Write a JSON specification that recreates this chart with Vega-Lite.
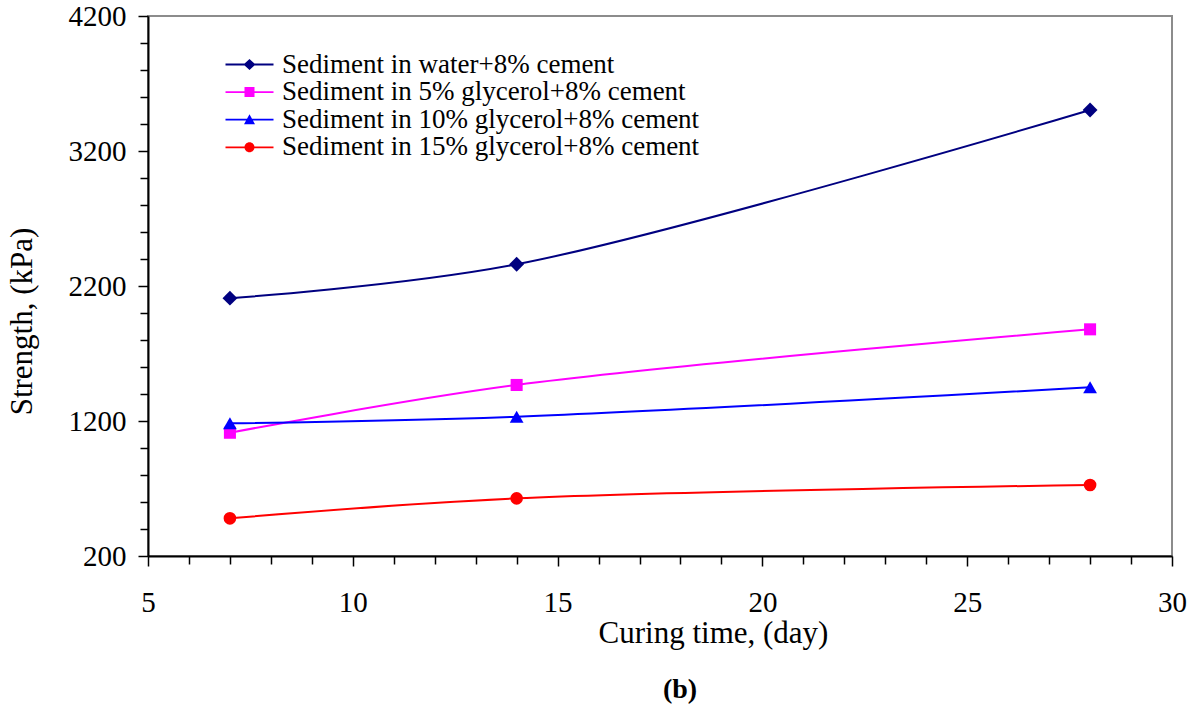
{
  "$schema": "https://vega.github.io/schema/vega-lite/v6.json",
  "width": 1024,
  "height": 540,
  "autosize": "none",
  "padding": {"left": 148, "top": 16, "right": 20, "bottom": 156},
  "background": "white",
  "config": {
    "font": "Liberation Serif",
    "view": {"stroke": "#8c8c8c", "strokeWidth": 2},
    "axis": {"grid": false, "labelFont": "Liberation Serif", "titleFont": "Liberation Serif"},
    "legend": {"labelFont": "Liberation Serif"}
  },
  "title": {
    "text": "(b)",
    "orient": "bottom",
    "anchor": "middle",
    "font": "Liberation Serif",
    "fontSize": 28,
    "fontWeight": "bold",
    "color": "black",
    "dx": 20,
    "offset": 28
  },
  "data": {
    "values": [
      {"series": "Sediment in water+8% cement", "day": 7, "strength": 2110},
      {"series": "Sediment in water+8% cement", "day": 14, "strength": 2361},
      {"series": "Sediment in water+8% cement", "day": 28, "strength": 3504},
      {"series": "Sediment in 5% glycerol+8% cement", "day": 7, "strength": 1113},
      {"series": "Sediment in 5% glycerol+8% cement", "day": 14, "strength": 1467},
      {"series": "Sediment in 5% glycerol+8% cement", "day": 28, "strength": 1879},
      {"series": "Sediment in 10% glycerol+8% cement", "day": 7, "strength": 1183},
      {"series": "Sediment in 10% glycerol+8% cement", "day": 14, "strength": 1232},
      {"series": "Sediment in 10% glycerol+8% cement", "day": 28, "strength": 1450},
      {"series": "Sediment in 15% glycerol+8% cement", "day": 7, "strength": 479},
      {"series": "Sediment in 15% glycerol+8% cement", "day": 14, "strength": 627},
      {"series": "Sediment in 15% glycerol+8% cement", "day": 28, "strength": 726}
    ]
  },
  "encoding": {
    "x": {
      "field": "day",
      "type": "quantitative",
      "scale": {"domain": [5, 30], "nice": false, "zero": false},
      "axis": {
        "title": "Curing time, (day)",
        "values": [5,6,7,8,9,10,11,12,13,14,15,16,17,18,19,20,21,22,23,24,25,26,27,28,29,30],
        "labelExpr": "datum.value % 5 === 0 ? datum.label : ''",
        "labelFont": "Liberation Serif",
        "labelFontSize": 29,
        "labelColor": "black",
        "labelPadding": 22,
        "labelFlush": false,
        "labelOverlap": false,
        "domainColor": "black",
        "domainWidth": 2,
        "tickColor": "black",
        "tickWidth": 1.5,
        "tickSize": {"condition": {"test": "datum.value % 5 === 0", "value": 10}, "value": 8},
        "titleFont": "Liberation Serif",
        "titleFontSize": 31,
        "titleFontWeight": "normal",
        "titleColor": "black",
        "titleX": 565,
        "titleY": 77,
        "titleAlign": "center",
        "titleBaseline": "middle"
      }
    },
    "y": {
      "field": "strength",
      "type": "quantitative",
      "scale": {"domain": [200, 4200], "nice": false, "zero": false},
      "axis": {
        "title": "Strength, (kPa)",
        "values": [200,400,600,800,1000,1200,1400,1600,1800,2000,2200,2400,2600,2800,3000,3200,3400,3600,3800,4000,4200],
        "labelExpr": "(datum.value - 200) % 1000 === 0 ? datum.label : ''",
        "format": "d",
        "labelFont": "Liberation Serif",
        "labelFontSize": 29,
        "labelColor": "black",
        "labelPadding": 12,
        "labelFlush": false,
        "labelOverlap": false,
        "domainColor": "black",
        "domainWidth": 2,
        "tickColor": "black",
        "tickWidth": 1.5,
        "tickSize": {"condition": {"test": "(datum.value - 200) % 1000 === 0", "value": 10}, "value": 8},
        "titleFont": "Liberation Serif",
        "titleFontSize": 31,
        "titleFontWeight": "normal",
        "titleColor": "black",
        "titleX": -126,
        "titleY": 305,
        "titleAngle": -90,
        "titleAlign": "center",
        "titleBaseline": "middle"
      }
    }
  },
  "layer": [
    {
      "mark": {"type": "line", "interpolate": "catmull-rom", "strokeWidth": 2},
      "encoding": {
        "stroke": {
          "field": "series",
          "type": "nominal",
          "scale": {
            "range": ["#0000ff", "#ff0000", "#ff00ff", "#000080"]
          },
          "legend": null
        }
      }
    },
    {
      "transform": [{"filter": "datum.series === 'Sediment in water+8% cement'"}],
      "mark": {"type": "point", "shape": "diamond", "filled": true, "size": 220, "color": "#000080", "opacity": 1}
    },
    {
      "transform": [{"filter": "datum.series === 'Sediment in 5% glycerol+8% cement'"}],
      "mark": {"type": "point", "shape": "square", "filled": true, "size": 145, "color": "#ff00ff", "opacity": 1}
    },
    {
      "transform": [{"filter": "datum.series === 'Sediment in 10% glycerol+8% cement'"}],
      "mark": {"type": "point", "shape": "triangle-up", "filled": true, "size": 190, "color": "#0000ff", "opacity": 1}
    },
    {
      "transform": [{"filter": "datum.series === 'Sediment in 15% glycerol+8% cement'"}],
      "mark": {"type": "point", "shape": "circle", "filled": true, "size": 160, "color": "#ff0000", "opacity": 1}
    },
    {
      "transform": [{"filter": "false"}],
      "mark": {"type": "point", "filled": true},
      "encoding": {
        "color": {
          "field": "series",
          "type": "nominal",
          "scale": {
            "domain": ["Sediment in water+8% cement", "Sediment in 5% glycerol+8% cement", "Sediment in 10% glycerol+8% cement", "Sediment in 15% glycerol+8% cement"],
            "range": ["#000080", "#ff00ff", "#0000ff", "#ff0000"]
          },
          "legend": {
            "title": null,
            "orient": "none",
            "legendX": 88,
            "legendY": 35,
            "direction": "vertical",
            "padding": 0,
            "symbolSize": 400,
            "symbolStrokeWidth": 0,
            "symbolOpacity": 1,
            "labelFont": "Liberation Serif",
            "labelFontSize": 27,
            "labelColor": "black",
            "labelLimit": 0,
            "labelOffset": 19,
            "rowPadding": -0.4
          }
        },
        "shape": {
          "field": "series",
          "type": "nominal",
          "scale": {
            "domain": ["Sediment in water+8% cement", "Sediment in 5% glycerol+8% cement", "Sediment in 10% glycerol+8% cement", "Sediment in 15% glycerol+8% cement"],
            "range": [
              "M-2.4,-0.09L2.4,-0.09L2.4,0.09L-2.4,0.09Z M0,-0.55L0.6,0L0,0.55L-0.6,0Z",
              "M-2.4,-0.09L2.4,-0.09L2.4,0.09L-2.4,0.09Z M-0.5,-0.5L0.5,-0.5L0.5,0.5L-0.5,0.5Z",
              "M-2.4,-0.09L2.4,-0.09L2.4,0.09L-2.4,0.09Z M0,-0.55L0.55,0.45L-0.55,0.45Z",
              "M-2.4,-0.09L2.4,-0.09L2.4,0.09L-2.4,0.09Z M-0.5,0A0.5,0.5 0 1,1 0.5,0A0.5,0.5 0 1,1 -0.5,0Z"
            ]
          },
          "legend": {
            "title": null,
            "orient": "none",
            "legendX": 88,
            "legendY": 35,
            "direction": "vertical",
            "padding": 0,
            "symbolSize": 400,
            "symbolStrokeWidth": 0,
            "symbolOpacity": 1,
            "labelFont": "Liberation Serif",
            "labelFontSize": 27,
            "labelColor": "black",
            "labelLimit": 0,
            "labelOffset": 19,
            "rowPadding": -0.4
          }
        }
      }
    }
  ]
}
